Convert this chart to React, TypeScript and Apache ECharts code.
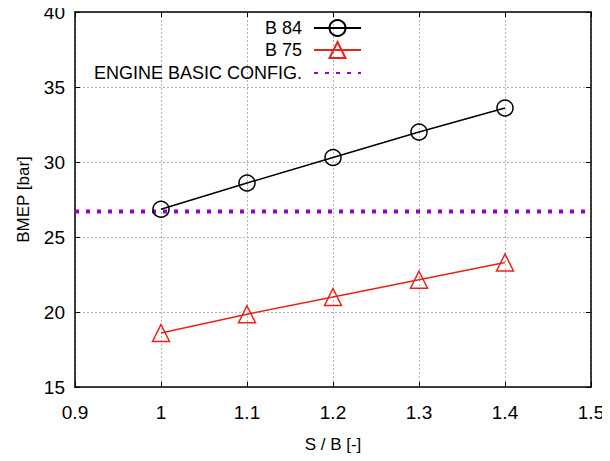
import React, { useEffect, useRef } from "react";
import * as echarts from "echarts";

const ratios = [1.0, 1.1, 1.2, 1.3, 1.4];
const b84 = [26.85, 28.6, 30.3, 32.0, 33.6];
const b75 = [18.6, 19.85, 21.0, 22.15, 23.3];
const baseRatioRange = [0.9, 1.5];
const baseBmep = 26.7;
const seriesNames = ["B 84", "B 75", "ENGINE BASIC CONFIG."];

const FONT = "'Liberation Sans', Arial, Helvetica, sans-serif";

export default function App() {
  const ref = useRef<HTMLDivElement>(null);
  useEffect(() => {
    if (!ref.current) return;
    const chart = echarts.init(ref.current, null, { renderer: "svg" });
    const gridLine = { show: true, lineStyle: { color: "#b0b0b0", width: 1, type: [2, 2] as any } };
    const axisLine = { show: true, lineStyle: { color: "#000", width: 1.5 } };
    const legendBase = {
      orient: "horizontal" as const,
      align: "right" as const,
      right: 248,
      padding: 0,
      itemWidth: 47,
      itemHeight: 20,
      textStyle: { fontFamily: FONT, fontSize: 18, color: "#000", padding: [0, 7, 0, 0] },
      selectedMode: false,
    };
    chart.setOption({
      animation: false,
      backgroundColor: "#fff",
      textStyle: { fontFamily: FONT },
      grid: { left: 75, right: 19, top: 12, bottom: 74 },
      legend: [
        { ...legendBase, top: 19, data: [seriesNames[0]] },
        { ...legendBase, top: 41, data: [seriesNames[1]] },
        { ...legendBase, top: 64, data: [seriesNames[2]] },
      ],
      xAxis: [
        {
          type: "value",
          min: 0.9,
          max: 1.5,
          interval: 0.1,
          name: "S / B [-]",
          nameLocation: "middle",
          nameGap: 49,
          nameTextStyle: { fontFamily: FONT, fontSize: 17, color: "#000" },
          axisLine,
          axisTick: { show: true, inside: true, length: 5, lineStyle: { color: "#000" } },
          axisLabel: { fontFamily: FONT, fontSize: 19, color: "#000", margin: 16 },
          splitLine: gridLine,
        },
        {
          type: "value",
          position: "top",
          min: 0.9,
          max: 1.5,
          interval: 0.1,
          axisLine,
          axisTick: { show: true, inside: true, length: 5, lineStyle: { color: "#000" } },
          axisLabel: { show: false },
          splitLine: { show: false },
        },
      ],
      yAxis: [
        {
          type: "value",
          min: 15,
          max: 40,
          interval: 5,
          name: "BMEP [bar]",
          nameLocation: "middle",
          nameGap: 43,
          nameTextStyle: { fontFamily: FONT, fontSize: 17, color: "#000" },
          axisLine,
          axisTick: { show: true, inside: true, length: 5, lineStyle: { color: "#000" } },
          axisLabel: { fontFamily: FONT, fontSize: 19, color: "#000", margin: 10 },
          splitLine: gridLine,
        },
        {
          type: "value",
          position: "right",
          min: 15,
          max: 40,
          interval: 5,
          axisLine,
          axisTick: { show: true, inside: true, length: 5, lineStyle: { color: "#000" } },
          axisLabel: { show: false },
          splitLine: { show: false },
        },
      ],
      series: [
        {
          name: seriesNames[0],
          type: "line",
          data: ratios.map((r, i) => [r, b84[i]]),
          symbol: "circle",
          symbolSize: 16,
          itemStyle: { color: "rgba(0,0,0,0)", borderColor: "#000", borderWidth: 1.5 },
          lineStyle: { color: "#000", width: 1.5 },
          z: 3,
        },
        {
          name: seriesNames[1],
          type: "line",
          data: ratios.map((r, i) => [r, b75[i]]),
          symbol: "triangle",
          symbolSize: 17,
          itemStyle: { color: "rgba(0,0,0,0)", borderColor: "#e8231c", borderWidth: 1.5 },
          lineStyle: { color: "#e8231c", width: 1.5 },
          z: 3,
        },
        {
          name: seriesNames[2],
          type: "line",
          data: baseRatioRange.map((r) => [r, baseBmep]),
          symbol: "none",
          itemStyle: { color: "rgba(0,0,0,0)", borderWidth: 0 },
          lineStyle: { color: "#9400d3", width: 4, type: [4, 7] as any },
          z: 2,
        },
      ],
    });
    return () => chart.dispose();
  }, []);
  return <div ref={ref} style={{ width: 610, height: 461, margin: -8 }} />;
}
